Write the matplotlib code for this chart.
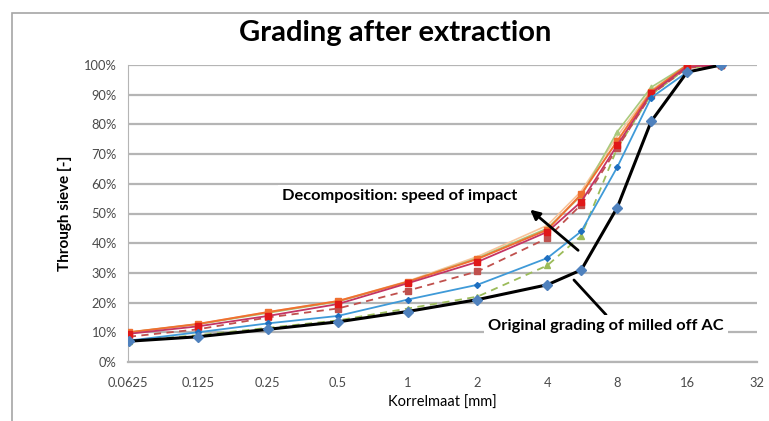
import matplotlib
matplotlib.use("Agg")
import matplotlib.pyplot as plt
from matplotlib.patches import Rectangle
from matplotlib.ticker import FixedLocator, FixedFormatter, PercentFormatter

plt.rcParams['font.family'] = ['Lato', 'DejaVu Sans']

# sieve sizes [mm]
sieves = [0.063, 0.125, 0.25, 0.5, 1, 2, 4, 5.6, 8, 11.2, 16, 22.4]

# passing fractions per sample
original = [0.07, 0.085, 0.11, 0.135, 0.17, 0.21, 0.26, 0.31, 0.52, 0.81, 0.976, 1.0]
blue_solid = [0.072, 0.10, 0.13, 0.155, 0.21, 0.26, 0.35, 0.44, 0.656, 0.89, 0.976, 1.0]
green_dashed = [0.072, 0.09, 0.115, 0.14, 0.18, 0.22, 0.325, 0.425, 0.72, 0.90, 0.99, 1.0]
red_dashed = [0.085, 0.11, 0.15, 0.18, 0.24, 0.305, 0.417, 0.53, 0.72, 0.90, 0.99, 1.0]
red_solid = [0.095, 0.12, 0.155, 0.195, 0.265, 0.337, 0.438, 0.54, 0.73, 0.905, 0.995, 1.0]
orange_solid = [0.10, 0.128, 0.168, 0.205, 0.27, 0.347, 0.445, 0.565, 0.744, 0.91, 1.0, 1.0]
green_solid = [0.10, 0.127, 0.165, 0.203, 0.27, 0.35, 0.45, 0.56, 0.775, 0.925, 1.0, 1.0]
tan_solid = [0.10, 0.128, 0.168, 0.205, 0.272, 0.355, 0.46, 0.575, 0.76, 0.915, 1.0, 1.0]

x_ticks = [0.0625, 0.125, 0.25, 0.5, 1, 2, 4, 8, 16, 32]
x_tick_labels = ['0.0625', '0.125', '0.25', '0.5', '1', '2', '4', '8', '16', '32']
y_ticks = [i / 10 for i in range(11)]

fig = plt.figure(figsize=(7.69, 4.21), dpi=100)
ax = fig.add_axes([128 / 769, 1 - 362 / 421, 629 / 769, 297 / 421])

# outer chart frame, cut off at right and bottom like the source image
fig.patches.append(Rectangle((12 / 769, -0.2), 1.2, (1 - 13 / 421) + 0.2, transform=fig.transFigure,
                             fill=False, edgecolor='#a6a6a6', linewidth=1.2, zorder=0))

ax.plot(sieves, tan_solid, color='#f8c49a', lw=1.2, zorder=3)
ax.plot(sieves, green_solid, color='#a9c97c', lw=1.2, marker='^', ms=3.5, zorder=3)
ax.plot(sieves, green_dashed, color='#9bbb59', lw=1.3, ls=(0, (4, 3)), marker='^', ms=4, zorder=3)
ax.plot(sieves, red_dashed, color='#c0504d', lw=1.3, ls=(0, (4, 3)), marker='s', ms=4.5, zorder=3)
ax.plot(sieves, orange_solid, color='#f07030', lw=1.4, marker='s', ms=4.5, zorder=4)
ax.plot(sieves, red_solid, color='#c43464', lw=1.3, marker='s', mfc='#e01818', mec='#e01818', ms=5, zorder=4)
ax.plot(sieves, blue_solid, color='#3f9ad8', lw=1.3, marker='D', mfc='#1f6fc0', mec='#1f6fc0', ms=3, zorder=4)
ax.plot(sieves, original, color='black', lw=2.2, marker='D', mfc='#4f81bd', mec='#4f81bd', ms=5.5, zorder=5)

ax.set_xscale('log', base=2)
ax.set_xlim(0.0625, 32)
ax.set_ylim(0, 1)
ax.xaxis.set_major_locator(FixedLocator(x_ticks))
ax.xaxis.set_major_formatter(FixedFormatter(x_tick_labels))
ax.xaxis.set_minor_locator(FixedLocator([]))
ax.set_yticks(y_ticks)
ax.yaxis.set_major_formatter(PercentFormatter(1.0, decimals=0))

ax.grid(axis='y', color='#b5b5b5', lw=1.6, zorder=1)
ax.set_axisbelow(True)
for side in ['top', 'right']:
    ax.spines[side].set_visible(False)
ax.spines['left'].set_color('#b5b5b5')
ax.spines['bottom'].set_color('#b5b5b5')
ax.spines['bottom'].set_linewidth(1.6)
ax.tick_params(axis='both', length=0, labelsize=9.3, labelcolor='#4a4a4a')
ax.tick_params(axis='x', pad=11)
ax.tick_params(axis='y', pad=8)

fig.text(395 / 769, 1 - 33 / 421, 'Grading after extraction', ha='center', va='center',
         fontsize=21, fontweight='bold')
ax.set_xlabel('Korrelmaat [mm]', fontsize=10.5, labelpad=5)
ax.set_ylabel('Through sieve [-]', fontsize=11, fontweight='bold', labelpad=9)

ax.text(0.432, 0.559, 'Decomposition: speed of impact', transform=ax.transAxes, ha='center', va='center',
        fontsize=11.8, fontweight='bold', zorder=6,
        bbox=dict(facecolor='white', edgecolor='none', pad=3))
ax.annotate('', xy=(0.636, 0.519), xytext=(0.719, 0.370), xycoords='axes fraction',
            arrowprops=dict(arrowstyle='-|>', color='black', lw=2, mutation_scale=14), zorder=6)
ax.annotate('', xy=(0.706, 0.283), xytext=(0.763, 0.152), xycoords='axes fraction',
            arrowprops=dict(arrowstyle='-', color='black', lw=2), zorder=6)
ax.text(0.760, 0.121, 'Original grading of milled off AC', transform=ax.transAxes, ha='center', va='center',
        fontsize=11.8, fontweight='bold', zorder=6,
        bbox=dict(facecolor='white', edgecolor='none', pad=3))

fig.savefig('out.png', dpi=100)
